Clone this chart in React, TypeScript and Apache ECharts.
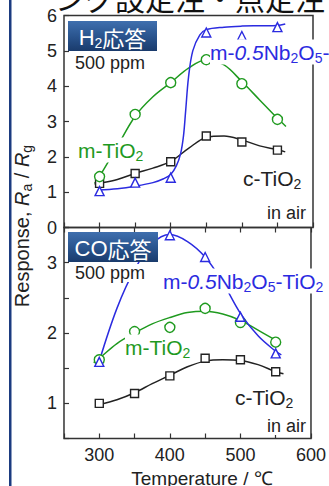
import React, { useEffect, useRef } from "react";
import * as echarts from "echarts";

// ---- data ----
const temps = [300, 350, 400, 450, 500, 550];

// H2 response (top panel)
const h2C = [1.25, 1.53, 1.86, 2.59, 2.42, 2.19];
const h2M = [1.44, 3.2, 4.1, 4.75, 4.07, 3.06];
const h2Nb = [1.03, 1.27, 1.41, 5.52, 5.42, 5.67];

// fitted curves
const h2CFitT = [293, 300, 325, 350, 375, 400, 425, 450, 475, 500, 525, 550, 561];
const h2CFitV = [1.23, 1.25, 1.36, 1.53, 1.68, 1.87, 2.24, 2.55, 2.59, 2.48, 2.31, 2.2, 2.14];
const h2MFitT = [293, 300, 325, 350, 375, 400, 425, 450, 475, 500, 525, 550, 562];
const h2MFitV = [1.25, 1.45, 2.3, 3.15, 3.7, 4.1, 4.51, 4.75, 4.6, 4.13, 3.61, 3.09, 2.86];
const h2NbFitT = [298, 325, 350, 375, 390, 400, 408, 414, 418, 421, 425, 431, 441, 450, 475, 500, 525, 550, 561];
const h2NbFitV = [1.06, 1.1, 1.17, 1.27, 1.38, 1.5, 1.75, 2.1, 2.6, 3.3, 4.25, 5.0, 5.45, 5.6, 5.67, 5.7, 5.71, 5.72, 5.76];

// CO response (bottom panel)
const coC = [1.0, 1.14, 1.39, 1.64, 1.62, 1.45];
const coM = [1.62, 2.02, 2.08, 2.35, 2.15, 1.87];
const coNb = [1.59, null, 3.39, 3.08, 2.23, 1.71];

const coCFitT = [300, 325, 350, 375, 400, 425, 450, 475, 500, 525, 550, 561];
const coCFitV = [0.98, 1.05, 1.15, 1.28, 1.4, 1.52, 1.6, 1.62, 1.61, 1.55, 1.45, 1.42];
const coMFitT = [292, 300, 325, 350, 375, 400, 425, 450, 475, 500, 525, 550, 556];
const coMFitV = [1.58, 1.64, 1.85, 2.0, 2.13, 2.22, 2.29, 2.31, 2.27, 2.18, 2.04, 1.9, 1.87];
const coNbFitT = [300, 325, 350, 375, 400, 425, 450, 475, 500, 525, 550, 558];
const coNbFitV = [1.6, 2.35, 2.9, 3.27, 3.4, 3.3, 3.08, 2.72, 2.28, 1.96, 1.74, 1.69];

const BLUE = "#2b2be0";
const GREEN = "#1f9a1f";
const BLACK = "#222222";
const FONT = "Liberation Sans, Arial, sans-serif";
const CJK = "Noto Sans CJK JP, sans-serif";

const pairs = (t: number[], v: (number | null)[]) => t.map((x, i) => [x, v[i]]);

export default function App() {
  const ref = useRef<HTMLDivElement>(null);
  useEffect(() => {
    if (!ref.current) return;
    const chart = echarts.init(ref.current, undefined, { renderer: "svg" });

    const curve = (t: number[], v: number[], color: string, gi: number) => ({
      type: "line",
      xAxisIndex: gi === 0 ? 0 : 1,
      yAxisIndex: gi,
      data: pairs(t, v),
      smooth: 0.35,
      showSymbol: false,
      symbol: "none",
      lineStyle: { color, width: 1.5 },
      z: 2,
    });
    const marks = (v: (number | null)[], color: string, symbol: string, size: number, gi: number) => ({
      type: "scatter",
      xAxisIndex: gi === 0 ? 0 : 1,
      yAxisIndex: gi,
      data: pairs(temps, v).filter((p) => p[1] !== null),
      symbol,
      symbolSize: size,
      itemStyle: { color: "#ffffff", borderColor: color, borderWidth: 1.4, opacity: 1 },
      z: 3,
    });

    const sub = (fs: number, pad: number) => ({ fontSize: fs, fontFamily: FONT, padding: [pad, 0, 0, 0] });
    const species = (x: number, y: number, text: string, color: string) => ({
      type: "text",
      x,
      y,
      z: 10,
      style: {
        text,
        fill: color,
        textAlign: "left",
        textVerticalAlign: "middle",
        backgroundColor: "#ffffff",
        rich: {
          n: { fontSize: 21, fontFamily: FONT, fill: color, color },
          i: { fontSize: 21, fontFamily: FONT, fontStyle: "italic", fill: color, color },
          s: { ...sub(14, 11), fill: color, color },
        },
      },
    });
    const plain = (x: number, y: number, text: string, fs: number, align = "left") => ({
      type: "text",
      x,
      y,
      z: 10,
      style: {
        text,
        fill: BLACK,
        font: `${fs}px ${FONT}`,
        textAlign: align,
        textVerticalAlign: "middle",
        backgroundColor: "#ffffff",
      },
    });
    const badge = (x: number, y: number, w: number, h: number, text: string) => ({
      type: "group",
      z: 10,
      children: [
        {
          type: "rect",
          shape: { x, y, width: w, height: h },
          style: {
            fill: new echarts.graphic.LinearGradient(0, 0, 0, 1, [
              { offset: 0, color: "#3f6fae" },
              { offset: 0.5, color: "#2a558f" },
              { offset: 1, color: "#1a3b6c" },
            ]),
          },
          z: 10,
        },
        {
          type: "text",
          x: x + w / 2,
          y: y + h / 2 + 1,
          z: 11,
          style: {
            text,
            fill: "#ffffff",
            textAlign: "center",
            textVerticalAlign: "middle",
            rich: {
              n: { fontSize: 22, fontFamily: FONT, fill: "#ffffff", color: "#ffffff" },
              j: { fontSize: 22, fontFamily: CJK, fill: "#ffffff", color: "#ffffff" },
              s: { ...sub(14, 11), fill: "#ffffff", color: "#ffffff" },
            },
          },
        },
      ],
    });

    const axisTickStyle = { show: true, inside: true, length: 5, lineStyle: { color: "#333", width: 1.2 } };

    chart.setOption({
      animation: false,
      grid: [
        { left: 64, top: 15.5, right: 16, height: 212, show: true, borderColor: "#333", borderWidth: 1.5, backgroundColor: "transparent" },
        { left: 64, top: 227.5, right: 16, height: 211, show: true, borderColor: "#333", borderWidth: 1.5, backgroundColor: "transparent" },
      ],
      xAxis: [
        {
          type: "value", gridIndex: 0, min: 250, max: 600, interval: 50,
          axisLine: { show: false }, axisTick: axisTickStyle, axisLabel: { show: false }, splitLine: { show: false },
        },
        {
          type: "value", gridIndex: 1, min: 250, max: 600, interval: 50,
          axisLine: { show: false }, axisTick: axisTickStyle, splitLine: { show: false },
          axisLabel: {
            show: true, margin: 7, fontSize: 18, fontFamily: FONT, color: BLACK,
            formatter: (v: number) => (v % 100 === 0 ? String(v) : ""),
          },
        },
        {
          type: "value", gridIndex: 1, position: "top", min: 250, max: 600, interval: 50,
          axisLine: { show: false }, axisTick: axisTickStyle, axisLabel: { show: false }, splitLine: { show: false },
        },
      ],
      yAxis: [
        {
          type: "value", gridIndex: 0, min: 0, max: 6, interval: 1,
          axisLine: { show: false }, axisTick: axisTickStyle, splitLine: { show: false },
          axisLabel: { show: true, margin: 7, fontSize: 18, fontFamily: FONT, color: BLACK },
        },
        {
          type: "value", gridIndex: 1, min: 0.5, max: 3.5, interval: 0.5,
          axisLine: { show: false }, axisTick: axisTickStyle, splitLine: { show: false },
          axisLabel: {
            show: true, margin: 7, fontSize: 18, fontFamily: FONT, color: BLACK,
            formatter: (v: number) => (Number.isInteger(v) && v < 3.5 ? String(v) : ""),
          },
        },
      ],
      series: [
        curve(h2CFitT, h2CFitV, BLACK, 0),
        curve(h2MFitT, h2MFitV, GREEN, 0),
        curve(h2NbFitT, h2NbFitV, BLUE, 0),
        marks(h2C, BLACK, "rect", 8, 0),
        marks(h2M, GREEN, "circle", 10, 0),
        marks(h2Nb, BLUE, "triangle", 9, 0),
        curve(coCFitT, coCFitV, BLACK, 1),
        curve(coMFitT, coMFitV, GREEN, 1),
        curve(coNbFitT, coNbFitV, BLUE, 1),
        marks(coC, BLACK, "rect", 8, 1),
        marks(coM, GREEN, "circle", 10, 1),
        marks(coNb, BLUE, "triangle", 9, 1),
      ],
      graphic: [
        { type: "rect", shape: { x: 9, y: 0, width: 2.5, height: 486 }, style: { fill: "#1b3b80" }, z: 20 },
        {
          type: "text", x: 55, y: -3, z: 20,
          style: { text: "ング設定注・点定注", fill: "#111", font: `30px ${CJK}`, textAlign: "left", textVerticalAlign: "middle" },
        },
        badge(68, 21, 89, 30, "{n|H}{s|2}{j|応答}"),
        badge(68, 232, 90, 30, "{n|CO}{j|応答}"),
        plain(75, 63, "500 ppm", 18),
        plain(75, 273, "500 ppm", 18),
        species(210, 52, "{n|m-}{i|0.5}{n|Nb}{s|2}{n|O}{s|5}{n|-TiO}{s|2}", BLUE),
        species(163, 281, "{n|m-}{i|0.5}{n|Nb}{s|2}{n|O}{s|5}{n|-TiO}{s|2}", BLUE),
        species(78, 150, "{n|m-TiO}{s|2}", GREEN),
        species(125, 347, "{n|m-TiO}{s|2}", GREEN),
        species(243, 178, "{n|c-TiO}{s|2}", BLACK),
        species(235, 397, "{n|c-TiO}{s|2}", BLACK),
        plain(306, 213, "in air", 18, "right"),
        plain(306, 426, "in air", 18, "right"),
        {
          type: "text", x: 202, y: 478, z: 20,
          style: { text: "Temperature / ℃", fill: BLACK, font: `19px ${FONT}`, textAlign: "center", textVerticalAlign: "middle" },
        },
        {
          type: "text", x: 22, y: 226, rotation: Math.PI / 2, z: 20,
          style: {
            text: "{n|Response, }{i|R}{s|a}{n| / }{i|R}{s|g}",
            fill: BLACK,
            textAlign: "center",
            textVerticalAlign: "middle",
            rich: {
              n: { fontSize: 20, fontFamily: FONT, fill: BLACK, color: BLACK },
              i: { fontSize: 20, fontFamily: FONT, fontStyle: "italic", fill: BLACK, color: BLACK },
              s: { ...sub(14, 10), fill: BLACK, color: BLACK },
            },
          },
        },
      ],
    });
    return () => chart.dispose();
  }, []);
  return <div ref={ref} style={{ position: "absolute", left: 0, top: 0, width: 329, height: 486 }} />;
}
